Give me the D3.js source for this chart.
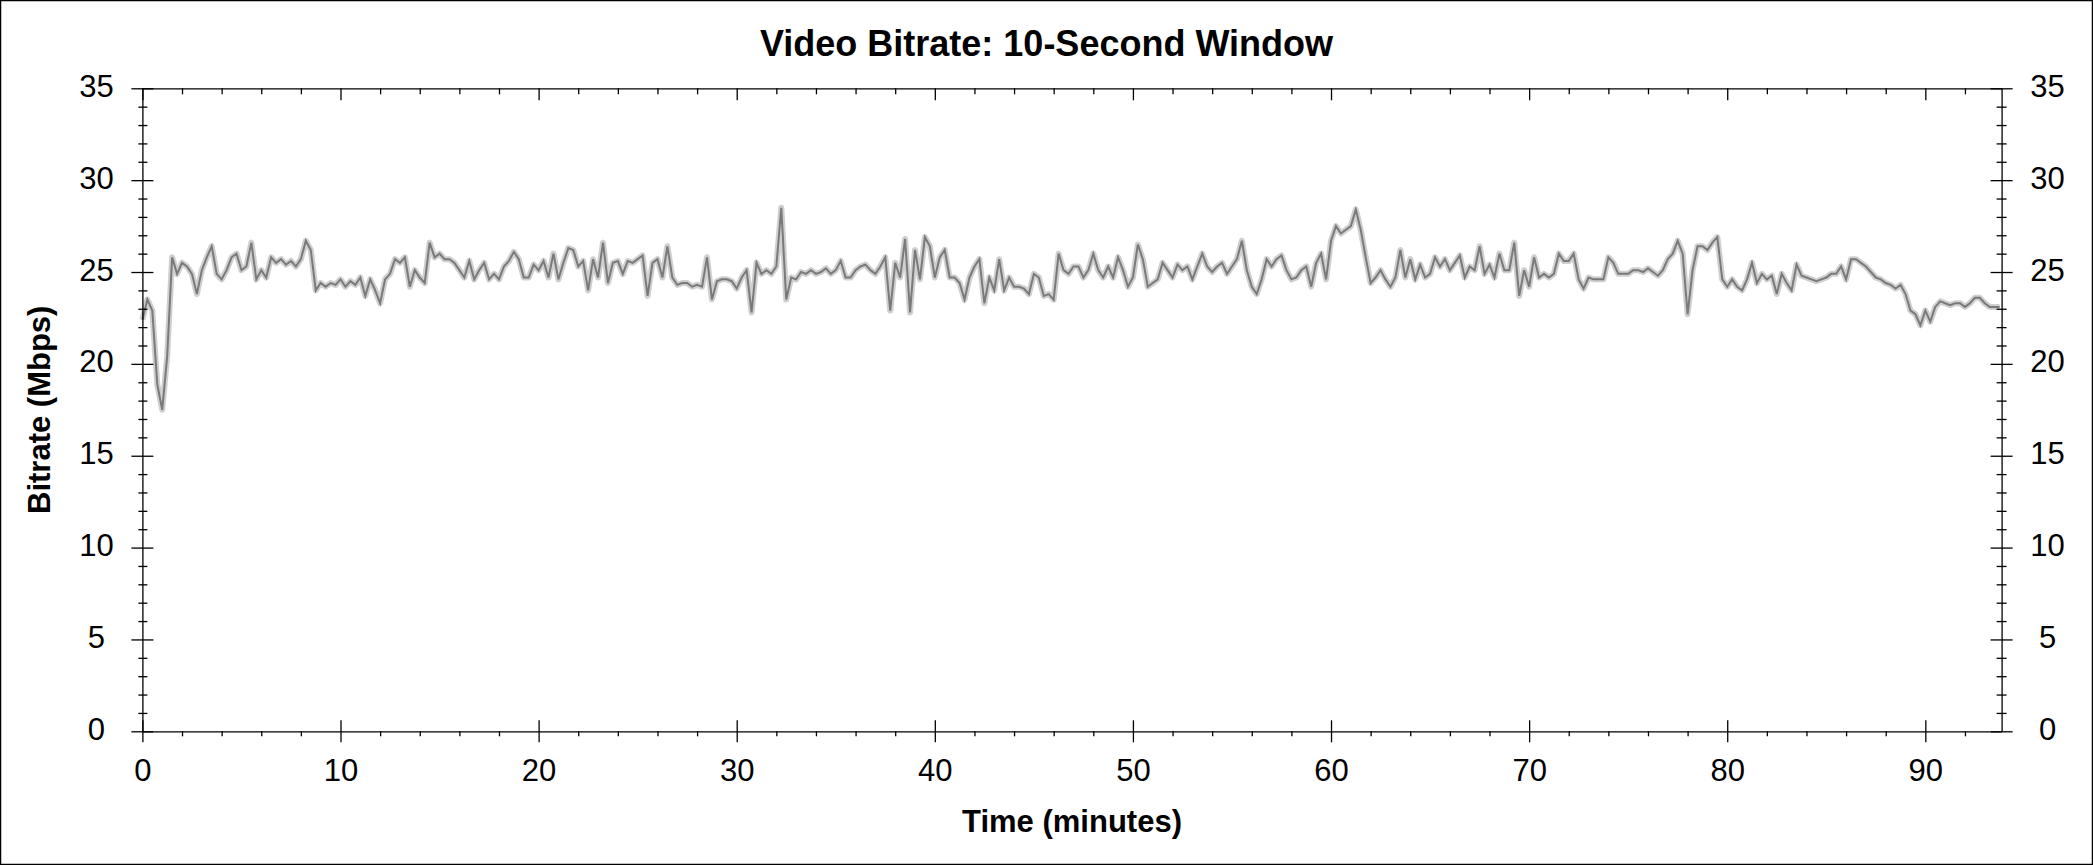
<!DOCTYPE html>
<html>
<head>
<meta charset="utf-8">
<title>Video Bitrate: 10-Second Window</title>
<script src="https://cdn.jsdelivr.net/npm/d3@7"></script>
<style>
    body { margin: 0; background: #fff; }
    text { font-family: Arial, "Liberation Sans", sans-serif; fill: #000; }
</style>
</head>
<body>
<div id="chart"></div>
<script>
"use strict";

// sampled every quarter minute, starting at 0
var sampleStep = 0.25;

// bitrate in Mbps, one row per minute
var bitrate = [
    22.4, 23.5, 22.9, 18.9,   17.5, 20.4, 25.8, 24.9,   25.5, 25.3, 24.9, 23.8,
    25.1, 25.8, 26.4, 24.9,   24.6, 25.1, 25.8, 26.0,   25.1, 25.3, 26.6, 24.6,
    25.1, 24.7, 25.8, 25.5,   25.7, 25.4, 25.6, 25.3,   25.7, 26.7, 26.2, 24.0,
    24.4, 24.2, 24.4, 24.3,   24.6, 24.2, 24.5, 24.3,   24.7, 23.7, 24.6, 24.0,
    23.3, 24.6, 24.9, 25.7,   25.5, 25.8, 24.2, 25.1,   24.7, 24.4, 26.6, 25.8,
    26.0, 25.7, 25.7, 25.5,   25.1, 24.7, 25.6, 24.6,   25.1, 25.5, 24.6, 24.9,
    24.6, 25.3, 25.6, 26.1,   25.7, 24.7, 24.7, 25.4,   25.1, 25.6, 24.7, 26.0,
    24.6, 25.5, 26.3, 26.2,   25.3, 25.6, 24.0, 25.7,   24.7, 26.6, 24.4, 25.5,
    25.6, 24.9, 25.6, 25.5,   25.7, 25.9, 23.7, 25.5,   25.7, 24.7, 26.4, 24.7,
    24.3, 24.4, 24.4, 24.2,   24.3, 24.2, 25.8, 23.5,   24.5, 24.6, 24.6, 24.5,
    24.1, 24.7, 25.1, 22.8,   25.5, 24.9, 25.1, 24.9,   25.3, 28.5, 23.5, 24.7,
    24.6, 25.0, 24.9, 25.1,   24.9, 25.0, 25.2, 24.9,   25.1, 25.6, 24.7, 24.7,
    25.1, 25.3, 25.4, 25.1,   24.9, 25.3, 25.8, 22.9,   25.5, 24.7, 26.8, 22.8,
    26.2, 24.6, 26.9, 26.4,   24.7, 25.8, 26.2, 24.7,   24.7, 24.4, 23.5, 24.7,
    25.3, 25.7, 23.3, 24.7,   24.0, 25.7, 24.0, 24.7,   24.2, 24.2, 24.1, 23.8,
    24.9, 24.7, 23.7, 23.8,   23.5, 26.0, 25.1, 24.9,   25.3, 25.3, 24.7, 25.1,
    26.0, 25.1, 24.7, 25.3,   24.7, 25.8, 25.1, 24.2,   24.7, 26.5, 25.7, 24.2,
    24.4, 24.6, 25.5, 25.1,   24.7, 25.4, 25.1, 25.3,   24.6, 25.3, 26.0, 25.3,
    25.0, 25.3, 25.5, 24.9,   25.3, 25.7, 26.7, 25.1,   24.2, 23.8, 24.6, 25.7,
    25.3, 25.7, 25.9, 25.1,   24.6, 24.7, 25.1, 25.3,   24.2, 25.5, 26.0, 24.6,
    26.7, 27.5, 27.1, 27.3,   27.5, 28.4, 27.3, 25.8,   24.4, 24.7, 25.1, 24.6,
    24.2, 24.7, 26.2, 24.7,   25.7, 24.6, 25.4, 24.7,   24.9, 25.8, 25.3, 25.7,
    25.1, 25.5, 25.9, 24.7,   25.3, 25.1, 26.4, 24.9,   25.4, 24.7, 26.0, 25.1,
    25.1, 26.6, 23.7, 25.1,   24.2, 25.8, 24.7, 24.9,   24.7, 24.9, 26.0, 25.6,
    25.6, 26.0, 24.6, 24.1,   24.7, 24.6, 24.6, 24.6,   25.8, 25.5, 24.9, 24.9,
    24.9, 25.1, 25.1, 25.0,   25.2, 25.0, 24.8, 25.1,   25.7, 26.0, 26.7, 26.0,
    22.7, 25.1, 26.4, 26.4,   26.2, 26.6, 26.9, 24.6,   24.2, 24.6, 24.2, 24.0,
    24.6, 25.5, 24.4, 24.9,   24.6, 24.8, 23.8, 24.9,   24.4, 24.0, 25.4, 24.8,
    24.7, 24.6, 24.5, 24.6,   24.7, 24.9, 24.9, 25.3,   24.6, 25.7, 25.7, 25.5,
    25.3, 25.0, 24.7, 24.6,   24.4, 24.3, 24.1, 24.3,   23.8, 22.9, 22.7, 22.1,
    22.9, 22.3, 23.1, 23.4,   23.3, 23.2, 23.3, 23.3,   23.1, 23.3, 23.6, 23.6,
    23.3, 23.1, 23.1, 23.1
];

var xMajorTicks = [0, 10, 20, 30, 40, 50, 60, 70, 80, 90];
var xMinorTicks = [2, 4, 6, 8, 12, 14, 16, 18, 22, 24, 26, 28, 32, 34, 36, 38, 42, 44, 46, 48,
                   52, 54, 56, 58, 62, 64, 66, 68, 72, 74, 76, 78, 82, 84, 86, 88, 92];
var yMajorTicks = [0, 5, 10, 15, 20, 25, 30, 35];
var yMinorTicks = [1, 2, 3, 4, 6, 7, 8, 9, 11, 12, 13, 14, 16, 17, 18, 19, 21, 22, 23, 24,
                   26, 27, 28, 29, 31, 32, 33, 34];

var timeMax = 93.85;
var bitrateMax = 35;

function drawChart()
{
    var w = 2093;
    var h = 865;
    var margin = {top: 88.3, right: 91.4, bottom: 133.7, left: 142.4};
    var pw = w - margin.left - margin.right;
    var ph = h - margin.top - margin.bottom;

    var data = bitrate.map(function(v, i) {
        return {t: i * sampleStep, v: v};
    });

    var svg = d3.select("#chart")
                .append("svg")
                .attr("width", w)
                .attr("height", h);

    // outer frame
    svg.append("rect")
        .attr("x", 0.5)
        .attr("y", 0.5)
        .attr("width", w - 1)
        .attr("height", h - 1)
        .attr("fill", "none")
        .attr("stroke", "#000")
        .attr("stroke-width", 1.5);

    var x = d3.scaleLinear().domain([0, timeMax]).range([0, pw]);
    var y = d3.scaleLinear().domain([0, bitrateMax]).range([ph, 0]);

    var g = svg.append("g")
               .attr("transform", "translate(" + margin.left + "," + margin.top + ")");

    var line = d3.line()
                 .x(function(d) { return x(d.t); })
                 .y(function(d) { return y(d.v); });

    // light spread behind the trace
    g.append("path")
        .datum(data)
        .attr("fill", "none")
        .attr("stroke", "#cfcfcf")
        .attr("stroke-width", 6)
        .attr("stroke-linejoin", "round")
        .attr("d", line);

    g.append("path")
        .datum(data)
        .attr("fill", "none")
        .attr("stroke", "#7a7a7a")
        .attr("stroke-width", 2)
        .attr("d", line);

    var fmt = d3.format("d");

    // bottom axis: majors cross the line, minors hang below
    var bottomMajor = g.append("g")
        .attr("transform", "translate(0," + ph + ")")
        .call(d3.axisBottom(x).tickValues(xMajorTicks).tickSize(11).tickSizeOuter(0).tickFormat(fmt));
    bottomMajor.selectAll(".tick line").attr("y1", -11);
    bottomMajor.selectAll(".tick text").attr("y", 50).attr("dy", 0);

    var bottomMinor = g.append("g")
        .attr("transform", "translate(0," + ph + ")")
        .call(d3.axisBottom(x).tickValues(xMinorTicks).tickSize(5).tickFormat(""));
    bottomMinor.select(".domain").remove();

    // top axis: ticks point into the plot
    g.append("g")
        .call(d3.axisTop(x).tickValues(xMajorTicks).tickSize(-12).tickSizeOuter(0).tickFormat(""));
    g.append("g")
        .call(d3.axisTop(x).tickValues(xMinorTicks).tickSize(-6).tickFormat(""))
        .select(".domain").remove();

    // left axis
    var leftMajor = g.append("g")
        .call(d3.axisLeft(y).tickValues(yMajorTicks).tickSize(11).tickSizeOuter(0).tickFormat(fmt));
    leftMajor.selectAll(".tick line").attr("x1", 11);
    leftMajor.selectAll(".tick text")
        .attr("x", -46)
        .attr("dy", "0.26em")
        .style("text-anchor", "middle");

    var leftMinor = g.append("g")
        .call(d3.axisLeft(y).tickValues(yMinorTicks).tickSize(4).tickFormat(""));
    leftMinor.select(".domain").remove();
    leftMinor.selectAll(".tick line").attr("x1", 5);

    // right axis
    var rightMajor = g.append("g")
        .attr("transform", "translate(" + pw + ",0)")
        .call(d3.axisRight(y).tickValues(yMajorTicks).tickSize(11).tickSizeOuter(0).tickFormat(fmt));
    rightMajor.selectAll(".tick line").attr("x1", -11);
    rightMajor.selectAll(".tick text")
        .attr("x", 46)
        .attr("dy", "0.26em")
        .style("text-anchor", "middle");

    var rightMinor = g.append("g")
        .attr("transform", "translate(" + pw + ",0)")
        .call(d3.axisRight(y).tickValues(yMinorTicks).tickSize(5).tickFormat(""));
    rightMinor.select(".domain").remove();
    rightMinor.selectAll(".tick line").attr("x1", -5);

    g.selectAll(".tick text")
        .style("font-size", "31px")
        .style("font-family", "Arial, 'Liberation Sans', sans-serif")
        .attr("fill", "#000");
    g.selectAll(".domain, .tick line")
        .attr("stroke", "#000")
        .attr("stroke-width", 1.3);

    // titles
    svg.append("text")
        .text("Video Bitrate: 10-Second Window")
        .attr("x", w / 2)
        .attr("y", 55.7)
        .style("text-anchor", "middle")
        .style("font-size", "36px")
        .style("font-weight", "bold");

    svg.append("text")
        .text("Time (minutes)")
        .attr("x", margin.left + pw / 2)
        .attr("y", 831.7)
        .style("text-anchor", "middle")
        .style("font-size", "31px")
        .style("font-weight", "bold");

    svg.append("text")
        .text("Bitrate (Mbps)")
        .attr("transform", "translate(50," + (margin.top + ph / 2) + ") rotate(-90)")
        .style("text-anchor", "middle")
        .style("font-size", "31px")
        .style("font-weight", "bold");
}

window.addEventListener('load', function () {
    drawChart();
});
</script>
</body>
</html>
